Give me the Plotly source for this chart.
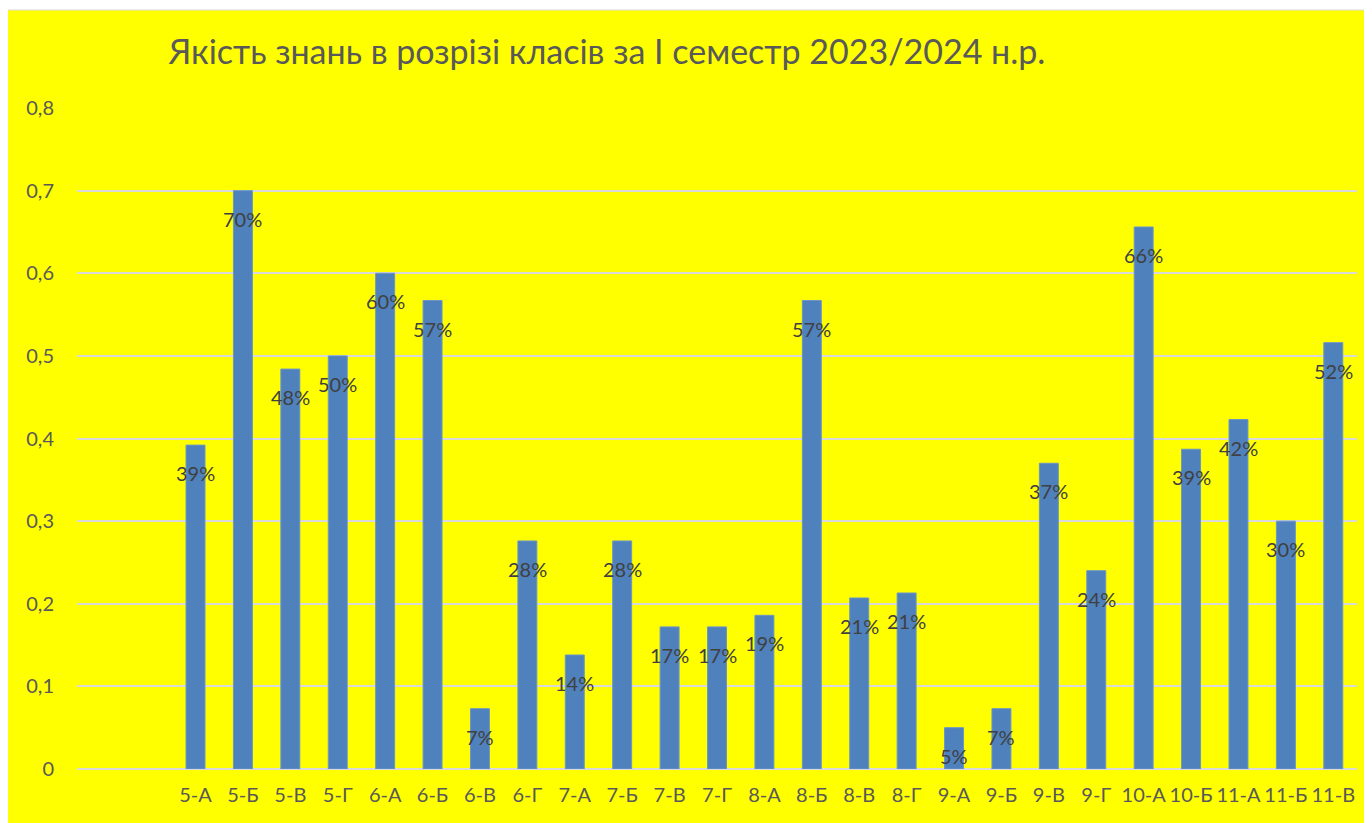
import plotly.graph_objects as go

# Data
classes = ["5-А", "5-Б", "5-В", "5-Г", "6-А", "6-Б", "6-В", "6-Г", "7-А", "7-Б",
           "7-В", "7-Г", "8-А", "8-Б", "8-В", "8-Г", "9-А", "9-Б", "9-В", "9-Г",
           "10-А", "10-Б", "11-А", "11-Б", "11-В"]
quality = [0.392, 0.700, 0.484, 0.500, 0.600, 0.567, 0.073, 0.276, 0.138, 0.276,
           0.172, 0.172, 0.186, 0.567, 0.207, 0.213, 0.050, 0.073, 0.370, 0.240,
           0.656, 0.387, 0.423, 0.300, 0.516]
y_ticks = [0, 0.1, 0.2, 0.3, 0.4, 0.5, 0.6, 0.7, 0.8]
y_ticktext = ["0", "0,1", "0,2", "0,3", "0,4", "0,5", "0,6", "0,7", "0,8"]

title = "Якість знань в розрізі класів за І семестр 2023/2024 н.р."

# page body has an 8px margin, so the figure is a bit smaller than the window
W, H = 1364, 815
L, R, T, B = 69, 15, 100, 54
pw, ph = W - L - R, H - T - B

fig = go.Figure(go.Bar(
    x=classes,
    y=quality,
    marker=dict(color="#4F81BD", line=dict(color="#6C95C8", width=1)),
    hoverinfo="x+y",
))

# value labels just below the top of each bar
for c, v in zip(classes, quality):
    fig.add_annotation(
        x=c, y=v, text=f"{int(v * 100 + 0.5)}%",
        showarrow=False, yanchor="middle", yshift=-28,
        font=dict(size=20, color="#404040"),
    )

# yellow chart area with thin grey frame
fig.add_shape(
    type="rect", xref="paper", yref="paper", layer="below",
    x0=(-1 - L) / pw, x1=(W + 2 - L) / pw,
    y0=-(B + 2) / ph, y1=(H - 2 - B) / ph,
    fillcolor="#FFFF00", line=dict(color="#D9D9D9", width=1),
)

fig.update_layout(
    width=W, height=H, autosize=False,
    margin=dict(l=L, r=R, t=T, b=B),
    paper_bgcolor="white",
    plot_bgcolor="rgba(0,0,0,0)",
    font=dict(family="Lato, Noto Sans, sans-serif", color="#595959", size=20),
    title=dict(text=title, x=599 / W, xanchor="center", y=1 - 44 / H, yanchor="middle",
               font=dict(size=34, color="#595959")),
    bargap=0.6,
    showlegend=False,
    xaxis=dict(
        type="category", range=[-2.5, len(classes) - 0.5],
        showgrid=False, showline=False, zeroline=False, ticks="",
        tickfont=dict(size=20, color="#595959"), ticklabelstandoff=12,
    ),
    yaxis=dict(
        range=[0, 0.8], tickvals=y_ticks, ticktext=y_ticktext,
        showgrid=True, gridcolor="#D9D9D9", gridwidth=1.5,
        zeroline=True, zerolinecolor="#D9D9D9", zerolinewidth=1.5,
        showline=False, ticks="", ticklabelstandoff=22,
        tickfont=dict(size=20, color="#595959"),
    ),
)

fig.write_html("out.html")
